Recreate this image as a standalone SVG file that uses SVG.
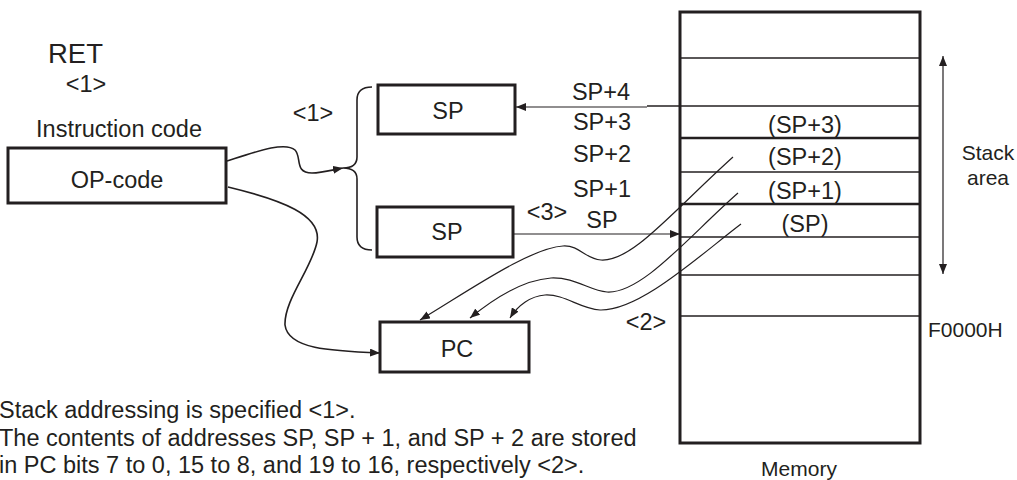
<svg xmlns="http://www.w3.org/2000/svg" width="1017" height="480" viewBox="0 0 1017 480">
<defs>
<style>
text{font-family:"Liberation Sans",Arial,Helvetica,sans-serif;font-size:23.5px;fill:#231f20}
.c{text-anchor:middle}
.sm{font-size:21px}
.box{fill:#fff;stroke:#231f20;stroke-width:3}
.thin{fill:none;stroke:#231f20;stroke-width:1.2}
.mid{fill:none;stroke:#231f20;stroke-width:1.6}
.mline{stroke:#231f20;stroke-width:1.6}
.mthick{stroke:#231f20;stroke-width:2.6}
</style>
<marker id="ah" viewBox="0 0 10 8" refX="10" refY="4" markerWidth="10" markerHeight="8" markerUnits="userSpaceOnUse" orient="auto">
<path d="M0,0 L10,4 L0,8 Z" fill="#231f20"/>
</marker>
<marker id="ahs" viewBox="0 0 10 8" refX="10" refY="4" markerWidth="10" markerHeight="8" markerUnits="userSpaceOnUse" orient="auto-start-reverse">
<path d="M0,0 L10,4 L0,8 Z" fill="#231f20"/>
</marker>
</defs>
<rect width="1017" height="480" fill="#fff"/>

<g id="ret-label">
<text x="48" y="63" style="font-size:27.5px">RET</text>
<text x="86" y="92" class="c">&lt;1&gt;</text>
</g>

<g id="opcode">
<text x="119" y="137" class="c">Instruction code</text>
<rect class="box" x="8" y="148" width="218" height="55"/>
<text x="117" y="188" class="c">OP-code</text>
</g>

<g id="sp-top">
<rect class="box" x="378" y="85" width="137" height="49"/>
<text x="448" y="119" class="c">SP</text>
</g>

<g id="sp-bottom">
<rect class="box" x="377" y="207" width="136" height="50"/>
<text x="447" y="240" class="c">SP</text>
</g>

<g id="pc">
<rect class="box" x="380" y="322" width="149" height="50"/>
<text x="457" y="357" class="c">PC</text>
</g>

<g id="memory">
<rect x="680" y="12" width="240" height="431" fill="none" stroke="#231f20" stroke-width="3"/>
<line class="mline" x1="680" y1="58" x2="920" y2="58"/>
<line class="mline" x1="647" y1="106" x2="920" y2="106"/>
<line class="mthick" x1="680" y1="138" x2="920" y2="138"/>
<line class="mline" x1="680" y1="172" x2="920" y2="172"/>
<line class="mthick" x1="680" y1="204" x2="920" y2="204"/>
<line class="mline" x1="680" y1="237" x2="920" y2="237"/>
<line class="mline" x1="680" y1="275" x2="920" y2="275"/>
<line class="mline" x1="680" y1="316" x2="920" y2="316"/>
<text x="805" y="133" class="c">(SP+3)</text>
<text x="805" y="165" class="c">(SP+2)</text>
<text x="805" y="199" class="c">(SP+1)</text>
<text x="805" y="232" class="c">(SP)</text>
<text x="799" y="476" class="c sm">Memory</text>
<text x="928" y="337" class="sm">F0000H</text>
</g>

<g id="stack-area">
<line class="thin" x1="943" y1="56" x2="943" y2="274" marker-start="url(#ahs)" marker-end="url(#ah)"/>
<text x="988" y="160" class="c sm">Stack</text>
<text x="988" y="185" class="c sm">area</text>
</g>

<g id="address-labels">
<text x="601" y="100" class="c">SP+4</text>
<text x="602" y="130" class="c">SP+3</text>
<text x="602" y="162" class="c">SP+2</text>
<text x="602" y="197" class="c">SP+1</text>
<text x="547" y="220" class="c">&lt;3&gt;</text>
<text x="602" y="228" class="c">SP</text>
<text x="313" y="121" class="c">&lt;1&gt;</text>
<text x="646" y="330" class="c">&lt;2&gt;</text>
</g>

<g id="connectors">
<path class="mid" d="M372,87 Q357,87 357,100 L357,157 Q357,168 343,168 Q357,168 357,179 L357,237 Q357,250 372,250"/>
<path class="mid" d="M227,161 C255,152 285,141 295,150 C302,157 294,173 312,173 C322,173 332,170 343,168" marker-end="url(#ah)"/>
<path class="mid" d="M228,187 C282,200 322,215 317,242 C312,268 284,300 285,325 C288,349 330,351 380,353" marker-end="url(#ah)"/>
<line class="thin" x1="647" y1="107" x2="516" y2="107" marker-end="url(#ah)"/>
<line class="thin" x1="513" y1="234" x2="680" y2="234" marker-end="url(#ah)"/>
<path class="thin" d="M733,157 C672,212 632,262 601,260 C585,259 580,245 563,246 C530,248 470,290 420,320" marker-end="url(#ah)"/>
<path class="thin" d="M738,193 C690,235 642,294 607,292 C590,291 575,277 551,278 C522,280 492,300 470,318" marker-end="url(#ah)"/>
<path class="thin" d="M741,224 C700,255 640,311 600,310 C580,309 565,294 545,295 C531,296 518,305 510,318" marker-end="url(#ah)"/>
</g>

<g id="notes">
<text x="-1" y="418">Stack addressing is specified &lt;1&gt;.</text>
<text x="-1" y="446">The contents of addresses SP, SP + 1, and SP + 2 are stored</text>
<text x="-1" y="473">in PC bits 7 to 0, 15 to 8, and 19 to 16, respectively &lt;2&gt;.</text>
</g>
</svg>
